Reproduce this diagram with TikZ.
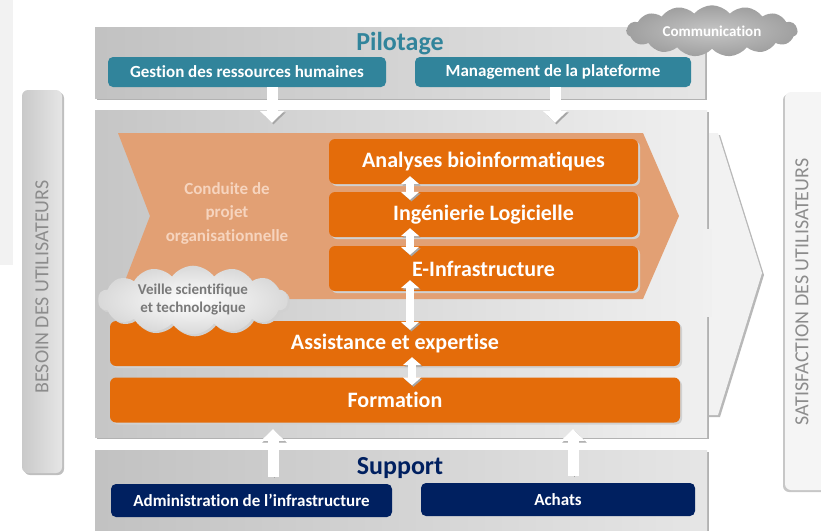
\documentclass[tikz,border=0pt]{standalone}
\usepackage{fontspec}
\setmainfont{Carlito}[Ligatures=NoCommon]
\usetikzlibrary{arrows.meta,shapes.symbols,calc}
\definecolor{pilteal}{RGB}{49,132,155}
\definecolor{orgbox}{RGB}{228,108,10}
\definecolor{orgchev}{RGB}{226,160,116}
\definecolor{supnavy}{RGB}{0,32,96}
\definecolor{condtxt}{RGB}{246,212,190}
\definecolor{sidetxt}{RGB}{140,140,140}
\begin{document}
\begin{tikzpicture}[x=1pt,y=-1pt,
  shadowed/.style={preaction={fill=black!#1,transform canvas={xshift=2pt,yshift=-2pt}}},
  graybox/.style={shadowed=30,shading=axis,left color=gray!48,right color=gray!20,inner sep=0pt},
  tealbox/.style={fill=pilteal,rounded corners=5pt,text=white,inner sep=0pt,minimum height=30pt,
    font=\bfseries\fontsize{17}{19}\selectfont},
  navybox/.style={tealbox,fill=supnavy,minimum height=33pt},
  orgbox/.style={shadowed=18,fill=orgbox,rounded corners=6pt,text=white,inner sep=0pt,minimum height=45pt,
    font=\bfseries\fontsize{22}{24}\selectfont},
  sidebar/.style={rounded corners=6pt,inner sep=0pt},
  sidetext/.style={rotate=90,text=sidetxt,font=\fontsize{20}{22}\selectfont},
  title/.style={font=\bfseries\fontsize{26}{28}\selectfont},
  bigarrow/.style={line width=11pt,draw=white,-{Triangle[width=24pt,length=12pt]},
    preaction={draw=black!35,transform canvas={xshift=1.5pt,yshift=-1.5pt}}},
  twoway/.style={line width=8pt,draw=white,{Triangle[width=18pt,length=8pt]}-{Triangle[width=18pt,length=8pt]},
    preaction={draw=black!35,transform canvas={xshift=1.5pt,yshift=-1.5pt}}}]
\useasboundingbox (0,0) rectangle (821,530);
\fill[gray!10] (0,0) rectangle (13,265);
% barres laterales
\node[sidebar,preaction={fill=black!25,transform canvas={xshift=2pt,yshift=-2pt}},
  shading=axis,left color=gray!42,right color=gray!20,minimum width=40pt,minimum height=383pt] (besoin) at (42,281.5) {};
\node[sidetext] (besointxt) at (42,287) {BESOIN DES UTILISATEURS};
\node[sidebar,preaction={fill=black!22,transform canvas={xshift=-2pt,yshift=-2pt}},
  fill=gray!8,minimum width=46pt,minimum height=398pt] (satisf) at (808,291) {};
\node[sidetext] (satisftxt) at (802,292) {SATISFACTION DES UTILISATEURS};
% grande fleche grise
\fill[gray!10,preaction={fill=black!28,transform canvas={xshift=2pt,yshift=-2pt}}]
  (700,133) -- (718,133) -- (762,273) -- (718,415) -- (700,415) -- cycle;
% pilotage
\node[graybox,minimum width=610pt,minimum height=71pt] (pilot) at (400,62.5) {};
\node[title,text=pilteal] (pilottxt) at (400,44) {Pilotage};
\node[tealbox,minimum width=278pt] (gest) at (247,72) {Gestion des ressources humaines};
\node[tealbox,minimum width=276pt] (mgmt) at (553,72) {Management de la plateforme};
\node[cloud,cloud puffs=15,cloud puff arc=100,aspect=3.6,inner sep=0pt,minimum width=171pt,minimum height=45pt,
  shading=radial,inner color=gray!45,outer color=gray!75,text=white,
  font=\bfseries\fontsize{15}{17}\selectfont] (comm) at (712,31) {Communication};
% bloc central
\node[graybox,left color=gray!45,right color=gray!12,minimum width=612pt,minimum height=327pt] (main) at (401,273.5) {};
\fill[gray!12] (703,229) rectangle (712,317);
\fill[orgchev] (118,133) -- (643,133) -- (679,216) -- (643,299) -- (118,299) -- (150,216) -- cycle;
\node[orgbox,minimum width=309pt] (ana) at (483.5,161.5) {Analyses bioinformatiques};
\node[orgbox,minimum width=309pt] (ing) at (483.5,214.5) {Ingénierie Logicielle};
\node[orgbox,minimum width=309pt] (einf) at (483.5,268.5) {E-Infrastructure};
\node[orgbox,minimum width=570pt] (assist) at (395,343.5) {Assistance et expertise};
\node[orgbox,minimum width=570pt] (form) at (395,400) {Formation};
\node[text=condtxt,align=center,font=\bfseries\fontsize{17}{23.5}\selectfont] (conduite) at (227,213)
  {Conduite de\\projet\\organisationnelle};
% support
\node[graybox,minimum width=612pt,minimum height=80pt] (support) at (401,490) {};
\node[title,text=supnavy] (supporttxt) at (400,468) {Support};
\node[navybox,minimum width=281pt] (admin) at (251.5,500.5) {Administration de l’infrastructure};
\node[navybox,minimum width=274pt] (achats) at (558,499.5) {Achats};
% fleches
\coordinate (cgest) at (272,0);
\coordinate (cmgmt) at (555,0);
\coordinate (cadmin) at (273,0);
\coordinate (cachats) at (573,0);
\coordinate (col) at (410,0);
\coordinate (colb) at (412,0);
\draw[bigarrow] (gest.south -| cgest) -- ($(main.north -| cgest)+(0,13)$);
\draw[bigarrow] (mgmt.south -| cmgmt) -- ($(main.north -| cmgmt)+(0,13)$);
\draw[bigarrow] ($(admin.north -| cadmin)+(0,-7)$) -- ($(main.south -| cadmin)+(0,-8)$);
\draw[bigarrow] ($(achats.north -| cachats)+(0,-7)$) -- ($(main.south -| cachats)+(0,-8)$);
\draw[twoway] ($(ana.south -| col)+(0,-8)$) -- ($(ing.north -| col)+(0,8)$);
\draw[twoway] ($(ing.south -| col)+(0,-9)$) -- ($(einf.north -| col)+(0,9)$);
\draw[twoway] ($(einf.south -| col)+(0,-11)$) -- ($(assist.north -| col)+(0,9)$);
\draw[twoway] ($(assist.south -| colb)+(0,-9)$) -- ($(form.north -| colb)+(0,8)$);
% veille
\node[cloud,cloud puffs=14,cloud puff arc=110,aspect=3,inner sep=0pt,minimum width=190pt,minimum height=64pt,
  preaction={fill=black!18,transform canvas={xshift=2pt,yshift=-2pt}},
  shading=radial,inner color=white,outer color=gray!30,text=gray!95!black,align=center,
  font=\bfseries\fontsize{15}{18}\selectfont] (veille) at (193,300) {Veille scientifique\\et technologique};
\end{tikzpicture}
\end{document}
